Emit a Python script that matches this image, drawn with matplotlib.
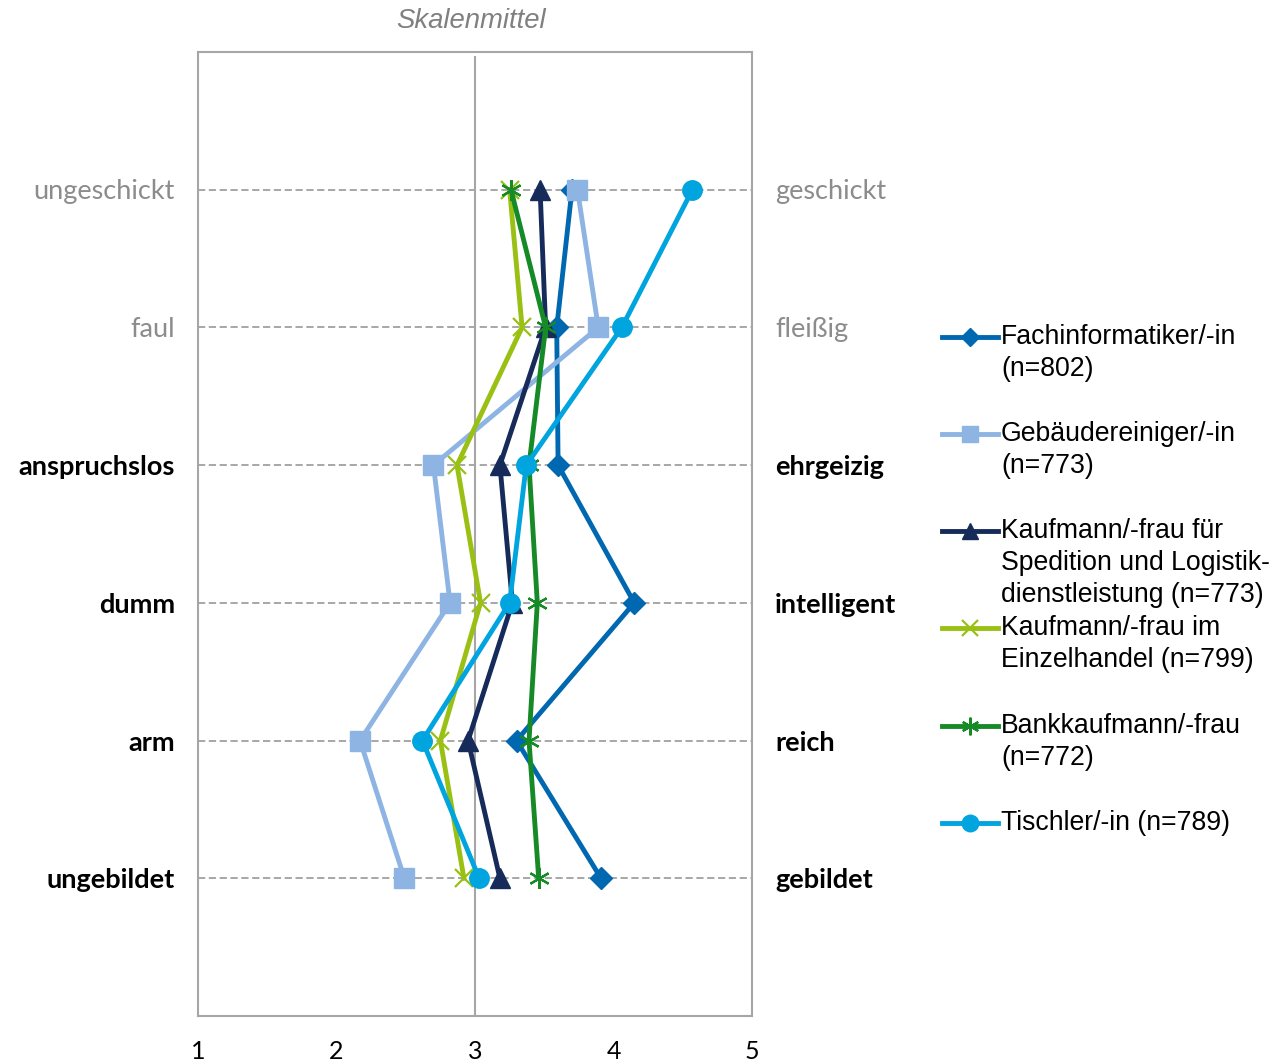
import matplotlib
matplotlib.use('Agg')
import matplotlib.pyplot as plt
from matplotlib.lines import Line2D

# Gegensatzpaare (links / rechts)
left_labels = ['ungeschickt', 'faul', 'anspruchslos', 'dumm', 'arm', 'ungebildet']
right_labels = ['geschickt', 'fleißig', 'ehrgeizig', 'intelligent', 'reich', 'gebildet']
label_bold = [False, False, True, True, True, True]

series_names = ['Fachinformatiker/-in\n(n=802)',
                'Gebäudereiniger/-in\n(n=773)',
                'Kaufmann/-frau für\nSpedition und Logistik-\ndienstleistung (n=773)',
                'Kaufmann/-frau im\nEinzelhandel (n=799)',
                'Bankkaufmann/-frau\n(n=772)',
                'Tischler/-in (n=789)']

fachinformatiker = [3.70, 3.59, 3.60, 4.15, 3.30, 3.91]
gebaeudereiniger = [3.74, 3.89, 2.70, 2.82, 2.17, 2.49]
spedition = [3.47, 3.51, 3.18, 3.27, 2.95, 3.18]
einzelhandel = [3.25, 3.34, 2.87, 3.04, 2.75, 2.92]
bank = [3.26, 3.51, 3.39, 3.45, 3.39, 3.46]
tischler = [4.57, 4.06, 3.37, 3.25, 2.62, 3.03]

x_ticks = [1, 2, 3, 4, 5]
skalenmittel = 3

colors = ['#0068B0', '#8DB4E2', '#172B5A', '#99C013', '#168A26', '#00A4DE']
markers = ['D', 's', '^', 'x', (6, 2, 0), 'o']
msizes = [11, 14, 14, 13, 15, 14]

all_series = [fachinformatiker, gebaeudereiniger, spedition, einzelhandel, bank, tischler]
rows = list(range(1, len(left_labels) + 1))

W, H = 1286, 1061
fig = plt.figure(figsize=(W / 100, H / 100), dpi=100)
ax = fig.add_axes([198 / W, 1 - 1016 / H, (752 - 198) / W, (1016 - 52) / H])

ax.set_xlim(1, 5)
ax.set_ylim(7, 0)

for r in rows:
    ax.axhline(r, color='#A0A0A0', lw=1.3, ls=(0, (4, 2)), zorder=1)
ax.axvline(skalenmittel, ymin=0, ymax=1 - 5 / 964, color='#A6A6A6', lw=1.5, zorder=1)

for vals, c, m, ms in zip(all_series, colors, markers, msizes):
    mew = 1.6 if m in ('x', (6, 2, 0)) else 1
    ax.plot(vals, rows, color=c, lw=3.5, marker=m, ms=ms, mec=c, mfc=c, mew=mew,
            zorder=3, clip_on=False)

for s in ax.spines.values():
    s.set_color('#A6A6A6')
    s.set_linewidth(1.5)

ax.set_xticks(x_ticks)
ax.set_xticklabels([str(t) for t in x_ticks], fontfamily='Lato', fontsize=18)
ax.tick_params(axis='x', length=0, pad=17)
ax.set_yticks([])

for r, lt, rt, b in zip(rows, left_labels, right_labels, label_bold):
    col = 'black' if b else '#8C8C8C'
    wt = 'bold' if b else 'normal'
    ax.annotate(lt, xy=(0, r), xycoords=('axes fraction', 'data'), xytext=(-23, -2),
                textcoords='offset pixels', ha='right', va='center',
                fontfamily='Lato', fontsize=19.5, color=col, fontweight=wt)
    ax.annotate(rt, xy=(1, r), xycoords=('axes fraction', 'data'), xytext=(23, -2),
                textcoords='offset pixels', ha='left', va='center',
                fontfamily='Lato', fontsize=19.5, color=col, fontweight=wt)

fig.text(471 / W, 1 - 21 / H, 'Skalenmittel', ha='center', va='center',
         fontfamily='Liberation Sans', fontstyle='italic', fontsize=19.8, color='#808080')

# Legende von Hand, Einträge mit gleichem Abstand
leg_y = [337, 434, 531, 628, 726, 823]
for name, c, m, ms, ly in zip(series_names, colors, markers, msizes, leg_y):
    mew = 1.6 if m in ('x', (6, 2, 0)) else 1
    yy = 1 - ly / H
    fig.add_artist(Line2D([942 / W, 998 / W], [yy, yy], color=c, lw=3.5,
                          transform=fig.transFigure))
    fig.add_artist(Line2D([970 / W], [yy], color=c, marker=m, ms=ms * 0.85, mec=c,
                          mfc=c, mew=mew, transform=fig.transFigure))
    fig.text(1001 / W, 1 - (ly - 13) / H, name, ha='left', va='top',
             fontfamily='Liberation Sans', fontsize=19.2, linespacing=1.3, color='black')

fig.savefig('out.png', dpi=100, facecolor='white')
